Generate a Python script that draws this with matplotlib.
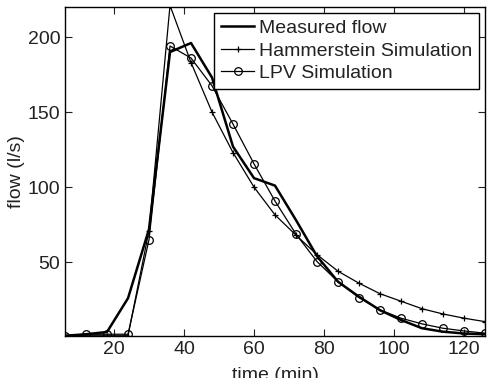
import matplotlib
matplotlib.use('Agg')
import matplotlib.pyplot as plt
import numpy as np

plt.rcParams['font.family'] = ['Liberation Sans', 'DejaVu Sans']

time_min = np.arange(6, 127, 6)
measured = [1, 2, 3.5, 26, 72, 190, 196, 173, 127, 106, 101, 78, 54, 37,
            27, 18, 11.5, 6, 3.7, 2.5, 2]
hammerstein = [1, 1, 1, 1, 71, 221, 183, 150, 123, 100, 81.5, 68, 55, 44,
               36, 29, 24, 19, 15.5, 12.7, 10.4]
lpv = [1, 2, 2, 2, 65, 194, 186, 167.5, 142, 115.5, 90.7, 68.7, 50.4, 37,
       26.4, 18.2, 12.7, 8.9, 6, 4.2, 2.7]

fig = plt.figure(figsize=(4.87, 3.78), dpi=100)
ax = fig.add_axes([0.1335, 0.1098, 0.8624, 0.8717])

ax.plot(time_min, measured, '-', color='black', lw=1.8, label='Measured flow')
ax.plot(time_min, hammerstein, '-+', color='black', lw=0.9, ms=5,
        mew=0.9, label='Hammerstein Simulation')
ax.plot(time_min, lpv, '-o', color='black', lw=0.9, ms=5.5, mew=0.9,
        mfc='none', label='LPV Simulation')

ax.set_xlim(6, 126)
ax.set_ylim(0.5, 220)
ax.set_xticks([20, 40, 60, 80, 100, 120])
ax.set_yticks([50, 100, 150, 200])
ax.tick_params(direction='in', top=True, right=True, length=5, width=0.8,
               labelsize=14, colors='#222222')
for s in ax.spines.values():
    s.set_linewidth(1.0)
ax.set_xlabel('time (min)', fontsize=14, labelpad=6, color='#222222')
ax.set_ylabel('flow (l/s)', fontsize=14, labelpad=2, color='#222222')

leg = ax.legend(loc='upper right', fontsize=14, fancybox=False,
                edgecolor='black', framealpha=1, borderaxespad=0.3,
                handlelength=1.7, handletextpad=0.26, borderpad=0.35,
                labelspacing=0.25)
leg.get_frame().set_linewidth(1.0)
for t in leg.get_texts():
    t.set_color('#222222')

fig.savefig('out.png', dpi=100)
